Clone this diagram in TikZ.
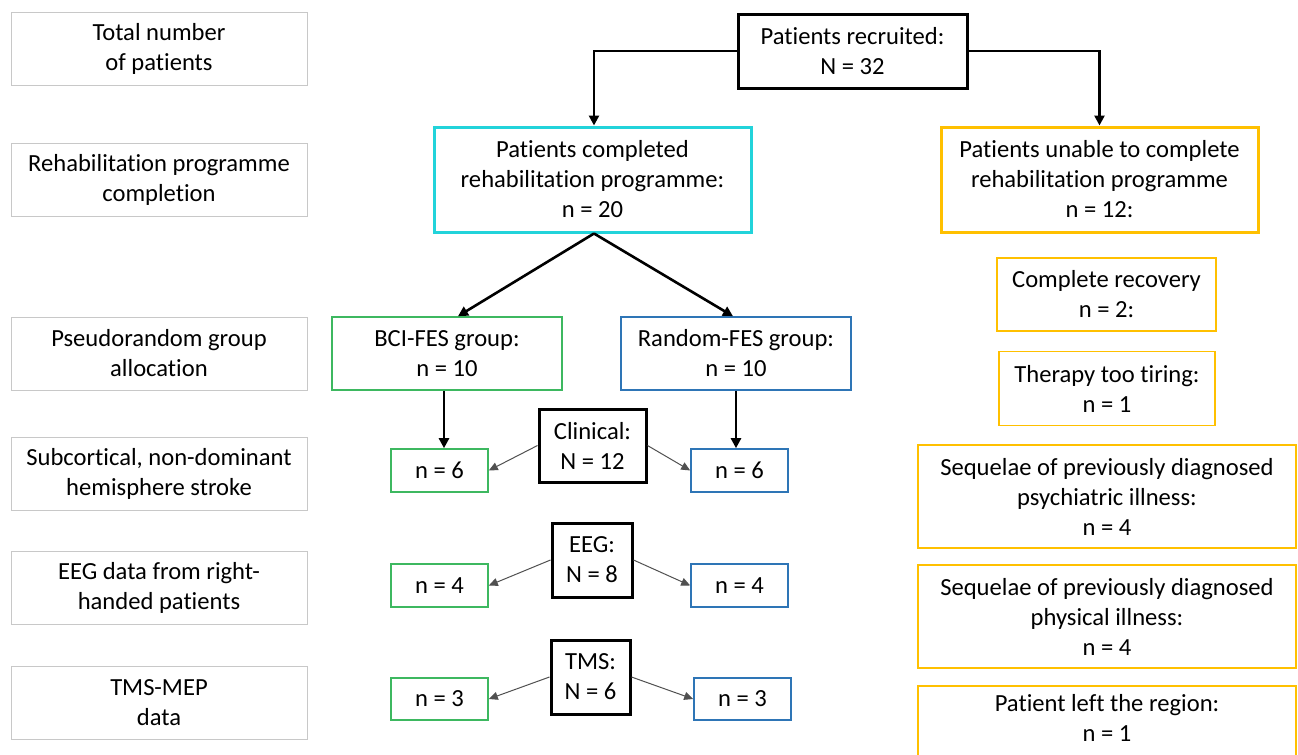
\documentclass[tikz,border=0pt]{standalone}
\usepackage{fontspec}
\setmainfont[Ligatures=NoCommon]{Carlito}
\usepackage{xcolor}
\usepackage{tikz}
\usetikzlibrary{shapes}
\usetikzlibrary{arrows.meta}
\usetikzlibrary{positioning}

\definecolor{rowgrey}{HTML}{C8C8C8}
\definecolor{donecyan}{HTML}{22D3DA}
\definecolor{dropamber}{HTML}{FFC000}
\definecolor{bcigreen}{HTML}{3DB860}
\definecolor{randblue}{HTML}{2E75B6}
\definecolor{linkgrey}{HTML}{505050}

\begin{document}
\begin{tikzpicture} [
            x = 0.5pt, y = -0.5pt,
            % ----- Node definitions ----- %
            rowlabel/.style = {
                draw = rowgrey,
                line width = 0.5pt,
                rectangle,
                minimum width = 148pt,
                minimum height = 36.5pt,
                inner sep = 0pt,
                align = center,
                font = \fontsize{12.3}{15}\selectfont
            },
            countbox/.style = {
                draw = #1,
                line width = 1.5pt,
                rectangle,
                inner sep = 0pt,
                align = center,
                fill = white,
                font = \fontsize{12.3}{15}\selectfont
            },
            groupbox/.style = {
                draw = #1,
                line width = 0.8pt,
                rectangle,
                inner sep = 0pt,
                align = center,
                fill = white,
                font = \fontsize{12.3}{15}\selectfont
            },
            % ----- Edge definitions ----- %
            mainflow/.style = {draw, line width = 1.3pt, -{Triangle[length=5pt, width=5pt]}},
            splitflow/.style = {draw = linkgrey, line width = 0.5pt, -{Triangle[length=4.5pt, width=4pt]}},
    ]

        \useasboundingbox (0,0) rectangle (1298,755);
        \clip (0,0) rectangle (1298,755);

            % ----- Row labels ----- %
        \node [rowlabel] (rowtotal)  at (159,48.5)  {Total number\\ of patients};
        \node [rowlabel] (rowrehab)  at (159,179.5) {Rehabilitation programme\\ completion};
        \node [rowlabel] (rowalloc)  at (159,353.5) {Pseudorandom group\\ allocation};
        \node [rowlabel] (rowstroke) at (159,473.5) {Subcortical, non-dominant\\ hemisphere stroke};
        \node [rowlabel] (roweeg)    at (159,587.5) {EEG data from right-\\ handed patients};
        \node [rowlabel] (rowtms)    at (159,702.5) {TMS-MEP\\ data};

            % ----- Patient flow ----- %
        \node [countbox=black, minimum width=114.5pt, minimum height=37pt] (recruited) at (852.5,51)
            {Patients recruited:\\ N = 32};
        \node [countbox=donecyan, minimum width=158.5pt, minimum height=52.5pt] (completed) at (592.5,179.5)
            {Patients completed\\ rehabilitation programme:\\ n = 20};
        \node [countbox=dropamber, minimum width=158.5pt, minimum height=52.5pt] (unable) at (1099.5,179.5)
            {Patients unable to complete\\ rehabilitation programme\\ n = 12:};

        \node [groupbox=bcigreen, minimum width=115pt, minimum height=36.5pt] (bci) at (447,353.5)
            {BCI-FES group:\\ n = 10};
        \node [groupbox=randblue, minimum width=115pt, minimum height=36.5pt] (random) at (736,353.5)
            {Random-FES group:\\ n = 10};

            % ----- Data subsets ----- %
        \node [countbox=black, minimum width=53.5pt, minimum height=36.5pt] (clinical) at (592.5,445.5)
            {Clinical:\\ N = 12};
        \node [groupbox=bcigreen, minimum width=48.5pt, minimum height=21.5pt] (clinbci) at (439.5,470.5) {n = 6};
        \node [groupbox=randblue, minimum width=48.5pt, minimum height=21.5pt] (clinrand) at (739.5,470.5) {n = 6};

        \node [countbox=black, minimum width=40pt, minimum height=37pt] (eeg) at (592,560)
            {EEG:\\ N = 8};
        \node [groupbox=bcigreen, minimum width=48.5pt, minimum height=21.5pt] (eegbci) at (439.5,585.5) {n = 4};
        \node [groupbox=randblue, minimum width=48.5pt, minimum height=21.5pt] (eegrand) at (739.5,585.5) {n = 4};

        \node [countbox=black, minimum width=39.5pt, minimum height=37pt] (tms) at (590.5,677)
            {TMS:\\ N = 6};
        \node [groupbox=bcigreen, minimum width=48.5pt, minimum height=21pt] (tmsbci) at (439.5,699) {n = 3};
        \node [groupbox=randblue, minimum width=48.5pt, minimum height=21pt] (tmsrand) at (742.5,699) {n = 3};

            % ----- Drop-out reasons ----- %
        \node [groupbox=dropamber, minimum width=109.5pt, minimum height=36.5pt] (recovery) at (1106.5,294.5)
            {Complete recovery\\ n = 2:};
        \node [groupbox=dropamber, minimum width=108pt, minimum height=37pt] (tiring) at (1107,388.5)
            {Therapy too tiring:\\ n = 1};
        \node [groupbox=dropamber, minimum width=189pt, minimum height=51.5pt] (psych) at (1107,496.5)
            {Sequelae of previously diagnosed\\ psychiatric illness:\\ n = 4};
        \node [groupbox=dropamber, minimum width=189pt, minimum height=51.5pt] (physical) at (1107,616.5)
            {Sequelae of previously diagnosed\\ physical illness:\\ n = 4};
        \node [groupbox=dropamber, minimum width=189pt, minimum height=51.5pt] (moved) at (1107,737.5)
            {Patient left the region:\\ n = 1\\ \strut};

            % ----- Connectors ----- %
        \draw [mainflow] (recruited.west) -| ([xshift=0.75pt]completed.north);
        \draw [mainflow] (recruited.east) -| (unable.north);
        \draw [mainflow] ([xshift=0.75pt]completed.south) -- ([xshift=5.5pt]bci.north);
        \draw [mainflow] ([xshift=0.75pt]completed.south) -- ([xshift=-1.5pt]random.north);
        \draw [mainflow] ([xshift=-1.5pt]bci.south) -- ([xshift=-1.5pt]bci.south |- clinbci.north);
        \draw [mainflow] (random.south) -- (random.south |- clinrand.north);

        \draw [splitflow] (clinical.west) -- (clinbci.east);
        \draw [splitflow] (clinical.east) -- (clinrand.west);
        \draw [splitflow] (eeg.west) -- (eegbci.east);
        \draw [splitflow] (eeg.east) -- (eegrand.west);
        \draw [splitflow] (tms.west) -- (tmsbci.east);
        \draw [splitflow] (tms.east) -- (tmsrand.west);

\end{tikzpicture}
\end{document}
